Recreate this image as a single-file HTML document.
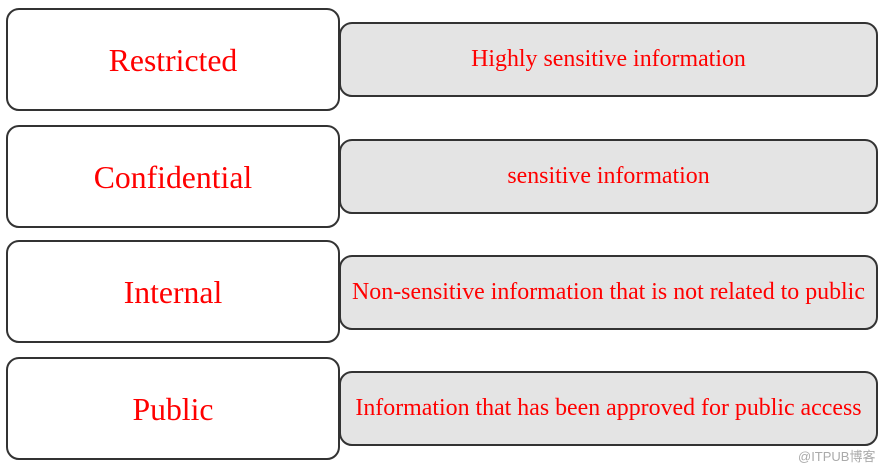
<!DOCTYPE html>
<html><head><style>
body{margin:0;width:890px;height:468px;background:#fff;position:relative;overflow:hidden;font-family:"Liberation Serif",serif;color:#ff0000}
.l,.r{position:absolute;box-sizing:border-box;border:2px solid #333;display:flex;align-items:center;justify-content:center;white-space:nowrap}
.l{left:6px;width:334px;height:103px;border-radius:13px;background:#fff;font-size:31.7px;padding-top:2px}
.r{left:339px;width:539px;height:75px;border-radius:13px;background:#e4e4e4;font-size:23.9px}
.w{position:absolute;left:798px;top:446px;font:13px "Liberation Sans","Noto Sans CJK SC",sans-serif;color:#aaa}
</style></head><body>
<div class="l" style="top:8px">Restricted</div>
<div class="r" style="top:22px">Highly sensitive information</div>
<div class="l" style="top:125px">Confidential</div>
<div class="r" style="top:139px">sensitive information</div>
<div class="l" style="top:240px">Internal</div>
<div class="r" style="top:255px">Non-sensitive information that is not related to public</div>
<div class="l" style="top:357px">Public</div>
<div class="r" style="top:371px">Information that has been approved for public access</div>
<div class="w">@ITPUB博客</div>
</body></html>
